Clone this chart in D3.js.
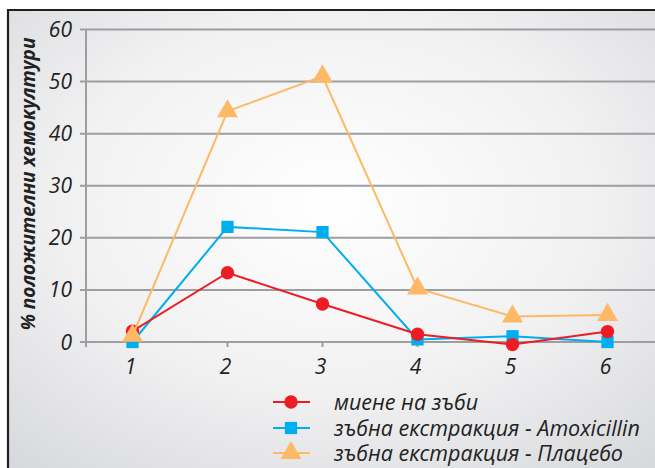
<!DOCTYPE html>
<html>
<head>
<meta charset="utf-8">
<script src="https://cdn.jsdelivr.net/npm/d3@7"></script>
<style>
  html, body { margin: 0; padding: 0; background: #fff; }
  svg { display: block; }
  text { font-family: "Open Sans", "Noto Sans", sans-serif; font-style: italic; fill: #222; }
</style>
</head>
<body>
<svg id="chart" width="655" height="468"></svg>
<script>
// Samples (x axis) and the three study groups
const categories = [1, 2, 3, 4, 5, 6];
const brushing   = [2.1, 13.3, 7.3, 1.5, -0.5, 2.0];
const amoxicillin = [0.0, 22.1, 21.1, 0.5, 1.1, 0.0];
const placebo    = [1.2, 44.3, 51.0, 10.3, 4.9, 5.2];
const yTicks = [0, 10, 20, 30, 40, 50, 60];
const seriesNames = ["миене на зъби", "зъбна екстракция - Amoxicillin", "зъбна екстракция - Плацебо"];
const seriesColors = ["#ed1c24", "#00aeef", "#fdb965"];
const seriesShapes = [d3.symbolCircle, d3.symbolSquare, d3.symbolTriangle];
const seriesSizes = [140, 150, 190];
const yLabel = "% положителни хемокултури";

const svg = d3.select("#chart");
const W = 655, H = 468;

// soft grey radial backdrop
const defs = svg.append("defs");
const grad = defs.append("radialGradient").attr("id", "bg")
  .attr("cx", "0.5").attr("cy", "0.42").attr("r", "0.75");
grad.append("stop").attr("offset", "0").attr("stop-color", "#ffffff");
grad.append("stop").attr("offset", "0.55").attr("stop-color", "#f1f1f2");
grad.append("stop").attr("offset", "1").attr("stop-color", "#d8d9dc");
svg.append("rect").attr("width", W).attr("height", H).attr("fill", "#fff");
svg.append("rect").attr("x", 8).attr("y", 10).attr("width", W - 8).attr("height", H - 10).attr("fill", "url(#bg)");
// frame (top and left edges)
svg.append("path").attr("d", `M8,${H} V10 H${W}`).attr("fill", "none")
  .attr("stroke", "#231f20").attr("stroke-width", 2.2);

const x = d3.scaleLinear().domain([0.5, 6.5]).range([85, 655]);
const y = d3.scaleLinear().domain([0, 60]).range([342, 29.5]);

// horizontal gridlines
svg.append("g").selectAll("line").data(yTicks).join("line")
  .attr("x1", 80).attr("x2", W).attr("y1", d => y(d)).attr("y2", d => y(d))
  .attr("stroke", "#9d9ea1").attr("stroke-width", 2);

// y axis line
svg.append("line").attr("x1", 86).attr("x2", 86).attr("y1", y(60)).attr("y2", y(0) + 5)
  .attr("stroke", "#9d9ea1").attr("stroke-width", 2);

// x ticks
svg.append("g").selectAll("line").data(categories).join("line")
  .attr("x1", d => x(d)).attr("x2", d => x(d)).attr("y1", y(0)).attr("y2", y(0) + 5)
  .attr("stroke", "#9d9ea1").attr("stroke-width", 2);

// y tick labels
svg.append("g").selectAll("text").data(yTicks).join("text")
  .attr("x", 72).attr("y", d => y(d)).attr("dy", "0.36em")
  .attr("text-anchor", "end").attr("font-size", 21).text(d => d);

// x tick labels
svg.append("g").selectAll("text").data(categories).join("text")
  .attr("x", d => x(d) - 2).attr("y", y(0) + 32)
  .attr("text-anchor", "middle").attr("font-size", 21).text(d => d);

// y axis title
svg.append("text").attr("transform", "translate(35,184) rotate(-90)")
  .attr("text-anchor", "middle").attr("font-size", 19).attr("font-weight", 700)
  .text(yLabel);

const line = d3.line().x((d, i) => x(categories[i])).y(d => y(d));
const allSeries = [brushing, amoxicillin, placebo];

// stacking order: amoxicillin at the bottom, then brushing, placebo on top
[1, 0, 2].forEach(k => {
  const g = svg.append("g");
  g.append("path").datum(allSeries[k]).attr("d", line)
    .attr("fill", "none").attr("stroke", seriesColors[k]).attr("stroke-width", 2);
  g.selectAll("path.m").data(allSeries[k]).join("path").attr("class", "m")
    .attr("transform", (d, i) => `translate(${x(categories[i])},${y(d)})`)
    .attr("d", d3.symbol().type(seriesShapes[k]).size(seriesSizes[k]))
    .attr("fill", seriesColors[k]);
});

// legend
const legY = [402, 428, 453];
seriesNames.forEach((name, k) => {
  const g = svg.append("g").attr("transform", `translate(0,${legY[k]})`);
  g.append("line").attr("x1", 273).attr("x2", 310).attr("y1", 0).attr("y2", 0)
    .attr("stroke", seriesColors[k]).attr("stroke-width", 2);
  g.append("path").attr("transform", "translate(291,0)")
    .attr("d", d3.symbol().type(seriesShapes[k]).size(seriesSizes[k])).attr("fill", seriesColors[k]);
  g.append("text").attr("x", 334).attr("y", 0).attr("dy", "0.36em")
    .attr("font-size", 21.5).text(name);
});
</script>
</body>
</html>
